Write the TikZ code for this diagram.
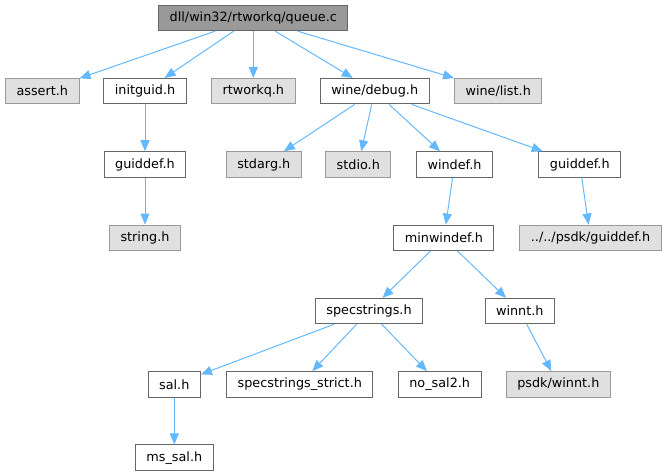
\documentclass[tikz,border=0pt]{standalone}
\usepackage{fontspec}
\setmainfont{DejaVu Sans}
\usetikzlibrary{arrows.meta}
\definecolor{edgeblue}{HTML}{63B8FF}
\definecolor{rootgray}{HTML}{999999}
\definecolor{extgray}{HTML}{E0E0E0}
\definecolor{linegray}{HTML}{666666}
\tikzstyle{file} = [rectangle, minimum height=25.5pt, inner xsep=11pt, inner ysep=0pt, text centered, draw=linegray, fill=white, line width=1pt, font=\fontsize{12.8}{15}\selectfont]
\tikzstyle{root} = [file, fill=rootgray]
\tikzstyle{ext} = [file, draw=rootgray, fill=extgray]
\tikzstyle{arrow} = [edgeblue, line width=1pt, ->, >={Triangle[length=11pt, width=9pt]}]

\begin{document}
\begin{tikzpicture}[x=1pt, y=1pt, node distance=73.3pt]
\useasboundingbox (0,0) rectangle (667,-476);

\node (queue) [root] at (253.3,-17.9) {dll/win32/rtworkq/queue.c};

\node (assert) [ext, below of=queue, xshift=-211pt] {assert.h};
\node (initguid) [file, below of=queue, xshift=-108.3pt] {initguid.h};
\node (rtworkq) [ext, below of=queue] {rtworkq.h};
\node (debug) [file, below of=queue, xshift=121.4pt] {wine/debug.h};
\node (list) [ext, below of=queue, xshift=244.9pt] {wine/list.h};

\node (guiddefa) [file, below of=initguid] {guiddef.h};
\node (string) [ext, below of=guiddefa] {string.h};

\node (stdarg) [ext, below of=debug, xshift=-110.9pt] {stdarg.h};
\node (stdio) [ext, below of=debug, xshift=-16.4pt] {stdio.h};
\node (windef) [file, below of=debug, xshift=79.8pt] {windef.h};
\node (guiddefb) [file, below of=debug, xshift=205.1pt] {guiddef.h};

\node (minwindef) [file, below of=windef, xshift=-10.6pt] {minwindef.h};
\node (psdkguiddef) [ext, below of=guiddefb, xshift=10.7pt] {../../psdk/guiddef.h};

\node (specstrings) [file, below of=minwindef, xshift=-74.9pt] {specstrings.h};
\node (winnt) [file, below of=minwindef, xshift=75.9pt] {winnt.h};

\node (sal) [file, below of=specstrings, xshift=-194.7pt] {sal.h};
\node (strict) [file, below of=specstrings, xshift=-69.2pt] {specstrings\_strict.h};
\node (nosal) [file, below of=specstrings, xshift=70.7pt] {no\_sal2.h};
\node (psdkwinnt) [ext, below of=winnt, xshift=38.5pt] {psdk/winnt.h};

\node (mssal) [file, below of=sal] {ms\_sal.h};


\draw [arrow] (queue) -- (assert);
\draw [arrow] (queue) -- (initguid);
\draw [arrow] (queue) -- (rtworkq);
\draw [arrow] (queue) -- (debug);
\draw [arrow] (queue) -- (list);

\draw [arrow] (initguid) -- (guiddefa);
\draw [arrow] (guiddefa) -- (string);

\draw [arrow] (debug) -- (stdarg);
\draw [arrow] (debug) -- (stdio);
\draw [arrow] (debug) -- (windef);
\draw [arrow] (debug) -- (guiddefb);

\draw [arrow] (windef) -- (minwindef);
\draw [arrow] (guiddefb) -- (psdkguiddef);

\draw [arrow] (minwindef) -- (specstrings);
\draw [arrow] (minwindef) -- (winnt);

\draw [arrow] (specstrings) -- (sal);
\draw [arrow] (specstrings) -- (strict);
\draw [arrow] (specstrings) -- (nosal);
\draw [arrow] (winnt) -- (psdkwinnt);

\draw [arrow] (sal) -- (mssal);

\end{tikzpicture}
\end{document}
